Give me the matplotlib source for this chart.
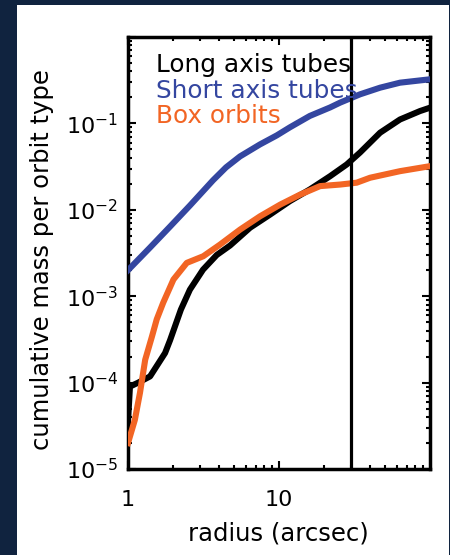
import matplotlib.pyplot as plt
from matplotlib.patches import Rectangle

# cumulative mass fraction per orbit family vs radius
radius_long = [1.0, 1.03, 1.17, 1.40, 1.76, 1.90, 2.24, 2.57, 3.14, 3.87, 4.74,
               6.43, 8.72, 11.8, 16.0, 21.8, 28.1, 34.4, 46.7, 63.3, 85.9, 100]
mass_long = [3.5e-5, 9.0e-5, 1.0e-4, 1.18e-4, 2.2e-4, 3.1e-4, 7.0e-4, 1.19e-3,
             2.03e-3, 3.0e-3, 3.86e-3, 6.2e-3, 8.8e-3, 1.26e-2, 1.72e-2, 2.45e-2,
             3.35e-2, 4.6e-2, 7.8e-2, 0.111, 0.139, 0.152]

radius_short = [1.0, 1.40, 1.90, 2.57, 3.66, 4.46, 5.52, 7.48, 9.66, 11.8, 16.0,
                21.8, 25.4, 34.4, 46.7, 63.3, 100]
mass_short = [2.0e-3, 3.66e-3, 6.4e-3, 1.12e-2, 2.2e-2, 3.1e-2, 4.15e-2, 5.71e-2,
              7.26e-2, 9.0e-2, 0.122, 0.153, 0.174, 0.217, 0.259, 0.296, 0.324]

radius_box = [1.0, 1.11, 1.20, 1.30, 1.44, 1.55, 1.71, 2.0, 2.45, 3.15, 4.07,
              5.52, 7.48, 10.2, 13.8, 18.7, 25.4, 32.7, 40.1, 63.3, 100]
mass_box = [2.0e-5, 3.7e-5, 7.6e-5, 1.84e-4, 3.4e-4, 5.4e-4, 8.4e-4, 1.56e-3,
            2.43e-3, 2.9e-3, 3.96e-3, 5.9e-3, 8.4e-3, 1.15e-2, 1.5e-2, 1.88e-2,
            1.96e-2, 2.06e-2, 2.35e-2, 2.8e-2, 3.2e-2]

series_names = ["Long axis tubes", "Short axis tubes", "Box orbits"]
series_colors = ["black", "#3446a0", "#f26524"]

r_marker = 30

xtick_values = [1, 10]
xtick_labels = ["1", "10"]
ytick_values = [1e-5, 1e-4, 1e-3, 1e-2, 1e-1, 1]
ytick_labels = [r"$10^{-5}$", r"$10^{-4}$", r"$10^{-3}$", r"$10^{-2}$", r"$10^{-1}$", ""]

W, H = 450, 555
fig = plt.figure(figsize=(W / 100, H / 100), dpi=100)
fig.patch.set_facecolor("#10233f")
fig.add_artist(Rectangle((17 / W, 0), 432 / W, 1 - 5 / H,
                         transform=fig.transFigure, facecolor="white",
                         edgecolor="none", zorder=0))

ax = fig.add_axes([128 / W, 1 - 469 / H, 302 / W, 432 / H])
ax.set_xscale("log")
ax.set_yscale("log")

lw = 4.4
ax.plot(radius_long, mass_long, color=series_colors[0], lw=lw, zorder=2)
ax.plot(radius_short, mass_short, color=series_colors[1], lw=lw, zorder=3)
ax.plot(radius_box, mass_box, color=series_colors[2], lw=lw, zorder=4)
ax.axvline(r_marker, color="black", lw=2.3, zorder=5)

ax.set_xlim(1, 100)
ax.set_ylim(1e-5, 1)
ax.set_xticks(xtick_values, xtick_labels)
ax.set_yticks(ytick_values, ytick_labels)

for s in ax.spines.values():
    s.set_linewidth(2.5)
ax.tick_params(which="both", direction="in", top=True, right=True,
               width=1.5, labelsize=16)
ax.tick_params(which="major", length=5.5)
ax.tick_params(which="minor", length=3)
ax.tick_params(axis="x", pad=15)
ax.tick_params(axis="y", pad=7)

fig.text(42 / W, 1 - 260 / H, "cumulative mass per orbit type",
         rotation=90, ha="center", va="center", fontsize=17.5)
fig.text(278 / W, 1 - 533 / H, "radius (arcsec)",
         ha="center", va="center", fontsize=17.5)

# legend as coloured text lines
for i, (name, col) in enumerate(zip(series_names, series_colors)):
    fig.text(156 / W, 1 - (72 + 25.5 * i) / H, name, color=col,
             fontsize=17.8, va="baseline", ha="left", zorder=6)

fig.savefig("out.png", dpi=100, facecolor=fig.get_facecolor())
